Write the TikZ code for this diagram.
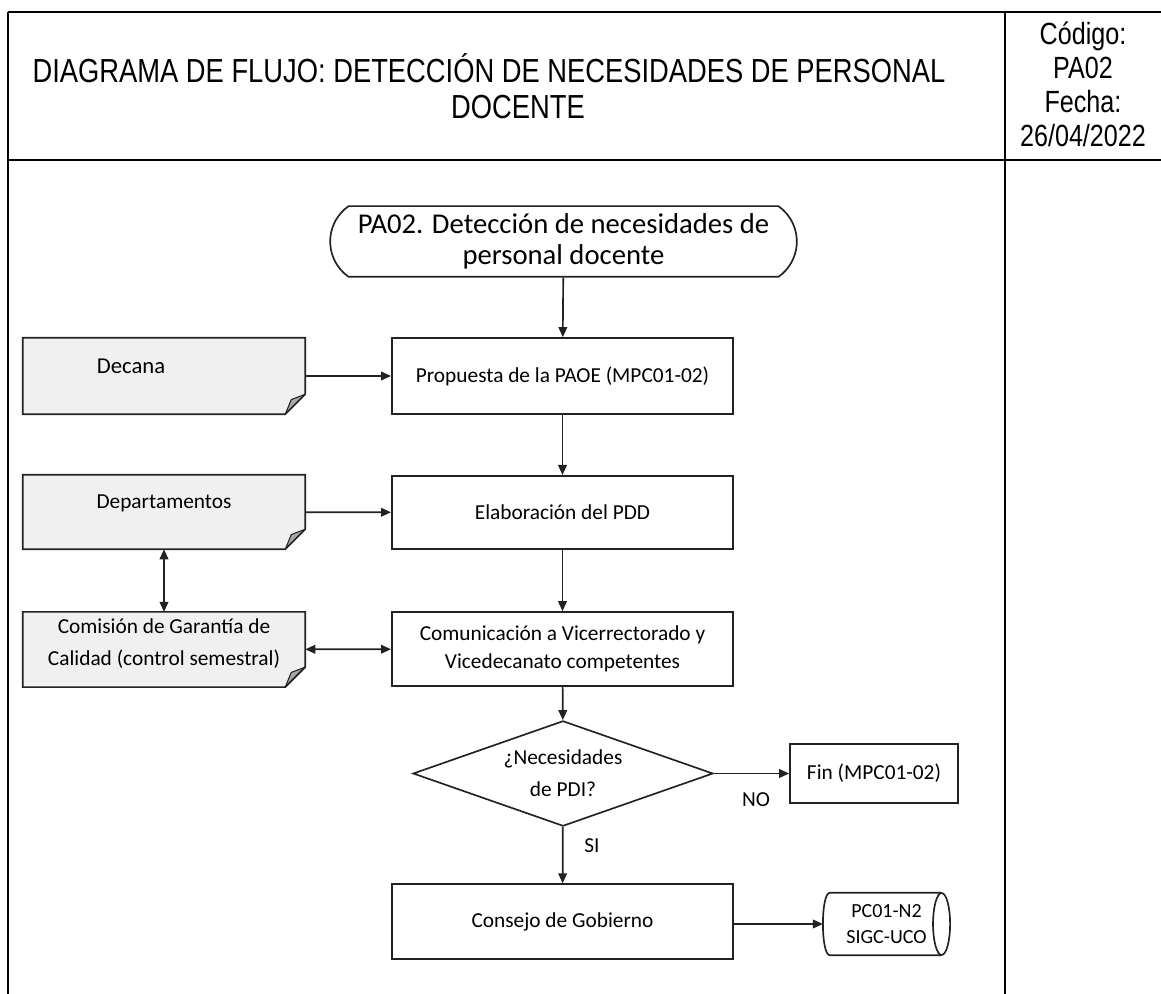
\documentclass[tikz,border=0pt]{standalone}
\usepackage{fontspec}
\setmainfont{Carlito}
\newfontfamily\narrow[FakeStretch=0.82]{Liberation Sans}
\usetikzlibrary{shapes.geometric,shapes.misc,arrows.meta}
\definecolor{docgray}{HTML}{F0F0F0}
\definecolor{foldgray}{HTML}{A8A8A8}
\definecolor{ink}{HTML}{222222}
\newcommand\mydocshape[1]{%
  \fill[docgray] (#1.north west) -- (#1.north east) -- ([yshift=15pt]#1.south east) -- ([xshift=-15pt]#1.south east) -- (#1.south west) -- cycle;
  \fill[foldgray] ([yshift=15pt]#1.south east) -- ([xshift=-10.5pt,yshift=11pt]#1.south east) -- ([xshift=-15pt]#1.south east) -- cycle;
  \draw[ink,line width=1.25pt,line join=miter] (#1.north west) -- (#1.north east) -- ([yshift=15pt]#1.south east) -- ([xshift=-15pt]#1.south east) -- (#1.south west) -- cycle;
  \draw[ink,line width=0.8pt] ([yshift=15pt]#1.south east) -- ([xshift=-10.5pt,yshift=11pt]#1.south east) -- ([xshift=-15pt]#1.south east);
}
\newcommand\mycylshape[1]{%
  \draw[ink,line width=1.25pt] ([xshift=-6.4pt]#1.north east) -- ([xshift=5.25pt]#1.north west)
    .. controls ([xshift=-1.75pt]#1.north west) and ([xshift=-1.75pt]#1.south west) .. ([xshift=5.25pt]#1.south west)
    -- ([xshift=-6.4pt]#1.south east);
  \draw[ink,line width=1.25pt] ([xshift=-6.4pt]#1.east) ellipse [x radius=6.4pt, y radius=23.25pt];
}
\begin{document}
\begin{tikzpicture}[x=0.75pt,y=-0.75pt,
  box/.style={draw=ink, line width=1.25pt, minimum width=256pt, align=center,
    font=\fontsize{16}{21}\selectfont, inner sep=0pt},
  docn/.style={minimum width=211.5pt, inner sep=0pt},
  doctext/.style={align=center, font=\fontsize{16}{24}\selectfont, inner sep=0pt},
  arr/.style={draw=ink, line width=1.25pt, -{Triangle[length=7.5pt,width=6.5pt]}},
  darr/.style={draw=ink, line width=1.25pt, {Triangle[length=7.5pt,width=6.5pt]}-{Triangle[length=7.5pt,width=6.5pt]}},
  tline/.style={line width=1.6pt, black},
  headtext/.style={inner sep=0pt, font=\narrow\fontsize{25}{29.5}\selectfont}
]
\useasboundingbox (0,0) rectangle (1161,994);
% table frame
\draw[tline] (8,12) -- (1161,12);
\draw[tline] (8,160) -- (1161,160);
\draw[tline] (8,12) -- (8,994);
\draw[tline] (1005,12) -- (1005,994);
% header texts
\node[headtext] (title1) at (489,68) {DIAGRAMA DE FLUJO: DETECCIÓN DE NECESIDADES DE PERSONAL};
\node[headtext] (title2) at (518,107) {DOCENTE};
\node[align=center, inner sep=0pt, font=\narrow\fontsize{23}{25.5}\selectfont] (code) at (1083,84)
  {Código:\\PA02\\Fecha:\\26/04/2022};
% flowchart
\node[draw=ink, line width=1.25pt, rounded rectangle, rounded rectangle arc length=110,
  minimum width=350pt, minimum height=53pt, inner sep=0pt, align=center,
  font=\fontsize{21.5}{23}\selectfont] (term) at (563.5,241.5)
  {PA02. Detección de necesidades de\\personal docente};
\node[box, minimum height=57pt] (prop) at (562.5,376) {Propuesta de la PAOE (MPC01-02)};
\node[box, minimum height=55pt] (elab) at (562.5,512.5) {Elaboración del PDD};
\node[box, minimum height=55.5pt] (com) at (562.5,649) {Comunicación a Vicerrectorado y\\Vicedecanato competentes};
\node[draw=ink, line width=1.25pt, diamond, shape aspect=2.85, minimum width=225pt, minimum height=79pt,
  inner sep=0pt, align=center, font=\fontsize{16}{24}\selectfont] (dia) at (563,773.5) {¿Necesidades\\de PDI?};
\node[box, minimum width=126pt, minimum height=44pt] (fin) at (874,773.5) {Fin (MPC01-02)};
\node[box, minimum height=56pt] (cons) at (562.5,921.5) {Consejo de Gobierno};
\node[minimum width=95pt, minimum height=46.5pt, inner sep=0pt, align=center,
  font=\fontsize{15}{20}\selectfont] (cyl) at (886.5,924) {PC01-N2\\SIGC-UCO};
\mycylshape{cyl}
% documents
\node[docn, minimum height=57pt] (dec) at (164,376) {};
\node[docn, minimum height=55.5pt] (dep) at (164,512) {};
\node[docn, minimum height=56pt] (comi) at (164,649.5) {};
\mydocshape{dec}
\mydocshape{dep}
\mydocshape{comi}
\node[doctext, font=\fontsize{17}{24}\selectfont] (dect) at (131,366) {Decana};
\node[doctext] (dept) at (164,503) {Departamentos};
\node[doctext] (comit) at (164,644) {Comisión de Garantía de\\Calidad (control semestral)};
% connectors
\draw[arr] (term) -- (prop);
\draw[arr] (dec) -- (prop);
\draw[arr] (prop) -- (elab);
\draw[arr] (dep) -- (elab);
\draw[arr] (elab) -- (com);
\draw[darr] (dep) -- (comi);
\draw[darr] (comi) -- (com);
\draw[arr] (com) -- (dia);
\draw[arr] (dia) -- (fin);
\draw[arr] (dia) -- (cons);
\draw[arr] (cons.east |- cyl.west) -- (cyl.west);
\node[font=\fontsize{16}{20}\selectfont, inner sep=0pt] (no) at (756,800) {NO};
\node[font=\fontsize{16}{20}\selectfont, inner sep=0pt] (si) at (592,846) {SI};
\end{tikzpicture}
\end{document}
